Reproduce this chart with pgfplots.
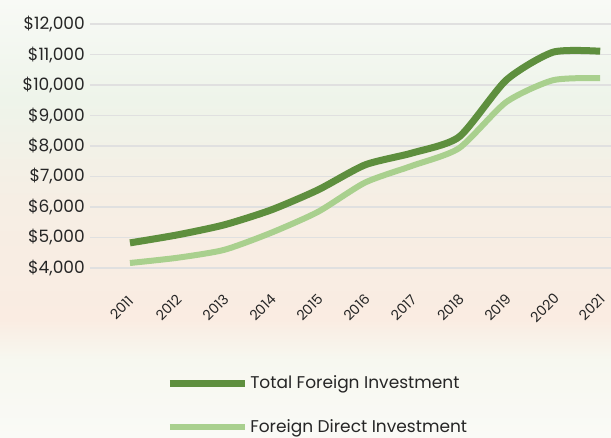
\documentclass[border=0pt]{standalone}
\usepackage{pgfplots}
\pgfplotsset{compat=1.18}
\usepackage{fontspec}
\setmainfont{Poppins}
\definecolor{tfi}{HTML}{5E8F3E}
\definecolor{fdi}{HTML}{A9D08E}
\definecolor{txt}{HTML}{262626}
% soft background; the box maps to 25bp (bottom) .. 75bp (top)
\pgfdeclareverticalshading{bgshade}{100bp}{%
    color(0bp)=(rgb,255:red,250;green,250;blue,246);
    color(25bp)=(rgb,255:red,250;green,250;blue,246);
    color(33.8bp)=(rgb,255:red,247;green,248;blue,240);
    color(38.4bp)=(rgb,255:red,250;green,236;blue,226);
    color(52bp)=(rgb,255:red,246;green,238;blue,228);
    color(63.6bp)=(rgb,255:red,238;green,244;blue,234);
    color(75bp)=(rgb,255:red,248;green,250;blue,246);
    color(100bp)=(rgb,255:red,248;green,250;blue,246)}
\begin{document}
\begin{tikzpicture}[x=1pt,y=1pt]
    \useasboundingbox (0,0) rectangle (611,437);
    \shade[shading=bgshade] (0,0) rectangle (611,437);
    \begin{axis}[
        at={(90pt,167pt)},
        anchor=south west,
        scale only axis,
        width=521pt,
        height=248pt,
        xmin=2010.15, xmax=2021.23,
        ymin=3930, ymax=12070,
        axis line style={draw=none},
        tick style={draw=none},
        xtick={2011,...,2021},
        ytick={4000,5000,...,12000},
        scaled y ticks=false,
        ymajorgrids,
        major grid style={black!12, line width=1.3pt},
        /pgf/number format/assume math mode=true,
        xticklabel={\pgfmathprintnumber[1000 sep=]{\tick}},
        yticklabel={\$\pgfmathprintnumber[1000 sep={,}]{\tick}},
        yticklabel style={font=\fontsize{17}{17}\selectfont, text=txt, anchor=east, inner sep=0pt, xshift=-5pt},
        xticklabel style={font=\fontsize{14}{14}\selectfont, text=txt, rotate=45, anchor=center, inner sep=0pt, xshift=-12pt},
        xticklabel shift=29pt,
        reverse legend,
        legend style={at={(0.146,-0.41)}, anchor=north west, draw=none, fill=none,
            font=\fontsize{17}{17}\selectfont, text=txt, row sep=25pt,
            legend cell align=left, inner xsep=0pt},
        legend image code/.code={\draw[#1] (0pt,0pt) -- (75pt,0pt);},
        ]
        \addplot[fdi, line width=6pt, smooth, tension=0.4] coordinates {
            (2011,4160) (2012,4330) (2013,4590) (2014,5150) (2015,5840) (2016,6800)
            (2017,7350) (2018,7930) (2019,9440) (2020,10160) (2021,10230)};
        \addplot[tfi, line width=7pt, smooth, tension=0.4] coordinates {
            (2011,4820) (2012,5080) (2013,5410) (2014,5900) (2015,6560) (2016,7380)
            (2017,7770) (2018,8300) (2019,10160) (2020,11080) (2021,11110)};
        \legend{Foreign Direct Investment, Total Foreign Investment}
    \end{axis}
\end{tikzpicture}
\end{document}
